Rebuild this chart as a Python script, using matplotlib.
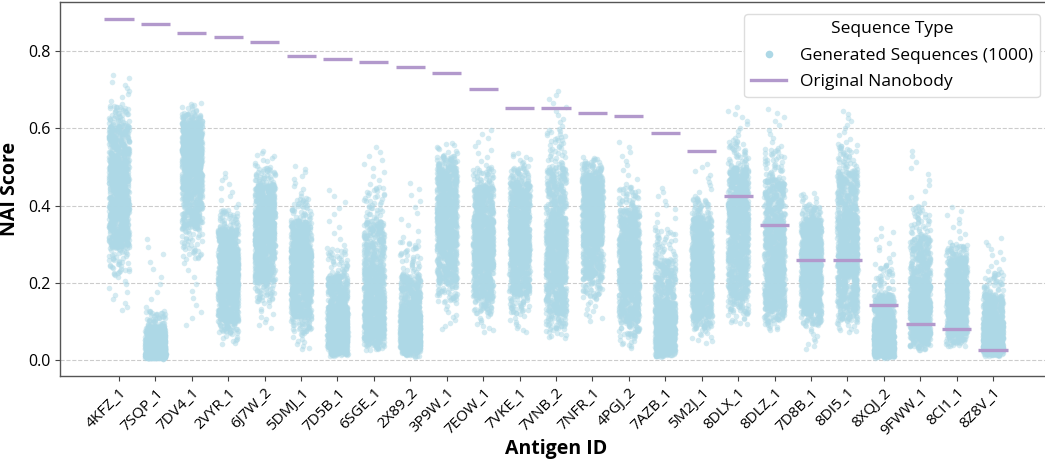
import numpy as np
import matplotlib
matplotlib.use("Agg")
import matplotlib.pyplot as plt
from matplotlib.lines import Line2D

plt.rcParams["font.family"] = ["Open Sans", "DejaVu Sans"]

# Antigen targets, ordered by the original nanobody's NAI score
antigens = ["4KFZ_1", "7SQP_1", "7DV4_1", "2VYR_1", "6J7W_2", "5DMJ_1", "7D5B_1",
            "6SGE_1", "2X89_2", "3P9W_1", "7EOW_1", "7VKE_1", "7VNB_2", "7NFR_1",
            "4PGJ_2", "7AZB_1", "5M2J_1", "8DLX_1", "8DLZ_1", "7D8B_1", "8DI5_1",
            "8XQJ_2", "9FWW_1", "8CI1_1", "8Z8V_1"]

# NAI score of the original nanobody for each antigen
original_score = [0.884, 0.870, 0.848, 0.836, 0.825, 0.788, 0.779, 0.772, 0.759,
                  0.744, 0.703, 0.653, 0.653, 0.639, 0.633, 0.587, 0.542, 0.426,
                  0.349, 0.260, 0.258, 0.143, 0.093, 0.079, 0.024]

# Score distribution of the 1000 generated sequences per antigen,
# given as quantiles at these cumulative probabilities
quantile_levels = [0.0, 0.01, 0.05, 0.25, 0.50, 0.75, 0.95, 0.99, 1.0]
generated_quantiles = {
    "4KFZ_1": [0.123, 0.22, 0.29, 0.37, 0.44, 0.52, 0.61, 0.66, 0.742],
    "7SQP_1": [0.003, 0.004, 0.007, 0.016, 0.030, 0.050, 0.088, 0.128, 0.322],
    "7DV4_1": [0.080, 0.26, 0.34, 0.44, 0.51, 0.565, 0.615, 0.64, 0.668],
    "2VYR_1": [0.040, 0.07, 0.10, 0.165, 0.22, 0.275, 0.34, 0.39, 0.490],
    "6J7W_2": [0.080, 0.15, 0.20, 0.275, 0.33, 0.385, 0.455, 0.50, 0.543],
    "5DMJ_1": [0.025, 0.07, 0.11, 0.18, 0.235, 0.285, 0.36, 0.42, 0.508],
    "7D5B_1": [0.010, 0.015, 0.025, 0.055, 0.095, 0.14, 0.22, 0.29, 0.448],
    "6SGE_1": [0.025, 0.035, 0.055, 0.10, 0.16, 0.24, 0.36, 0.45, 0.556],
    "2X89_2": [0.008, 0.015, 0.03, 0.055, 0.09, 0.13, 0.22, 0.31, 0.467],
    "3P9W_1": [0.077, 0.15, 0.20, 0.29, 0.36, 0.425, 0.50, 0.53, 0.565],
    "7EOW_1": [0.069, 0.12, 0.16, 0.24, 0.30, 0.365, 0.45, 0.50, 0.600],
    "7VKE_1": [0.070, 0.12, 0.17, 0.25, 0.32, 0.385, 0.46, 0.50, 0.539],
    "7VNB_2": [0.056, 0.08, 0.12, 0.21, 0.29, 0.37, 0.50, 0.60, 0.703],
    "7NFR_1": [0.098, 0.16, 0.21, 0.30, 0.36, 0.42, 0.48, 0.51, 0.526],
    "4PGJ_2": [0.030, 0.06, 0.10, 0.18, 0.245, 0.305, 0.39, 0.45, 0.570],
    "7AZB_1": [0.008, 0.012, 0.025, 0.055, 0.10, 0.15, 0.26, 0.34, 0.452],
    "5M2J_1": [0.042, 0.08, 0.11, 0.18, 0.24, 0.295, 0.37, 0.42, 0.513],
    "8DLX_1": [0.090, 0.12, 0.16, 0.25, 0.34, 0.415, 0.50, 0.57, 0.660],
    "8DLZ_1": [0.077, 0.10, 0.13, 0.20, 0.28, 0.36, 0.47, 0.55, 0.655],
    "7D8B_1": [0.025, 0.09, 0.12, 0.19, 0.25, 0.305, 0.365, 0.40, 0.435],
    "8DI5_1": [0.070, 0.10, 0.13, 0.22, 0.30, 0.38, 0.49, 0.56, 0.650],
    "8XQJ_2": [0.005, 0.008, 0.015, 0.04, 0.07, 0.10, 0.17, 0.25, 0.346],
    "9FWW_1": [0.025, 0.035, 0.055, 0.10, 0.15, 0.21, 0.32, 0.40, 0.550],
    "8CI1_1": [0.034, 0.045, 0.065, 0.115, 0.16, 0.205, 0.265, 0.30, 0.400],
    "8Z8V_1": [0.010, 0.013, 0.022, 0.042, 0.07, 0.10, 0.17, 0.23, 0.320],
}
n_generated = 1000

point_color = "#ADD8E6"
line_color = "#B299CC"

fig = plt.figure(figsize=(10.45, 4.61), dpi=100)
ax = fig.add_axes([60 / 1045, 85.3 / 461, 992 / 1045, 373.7 / 461])

rng = np.random.default_rng(7)
probs = (np.arange(n_generated) + 0.5) / n_generated
for i, name in enumerate(antigens):
    scores = np.interp(probs, quantile_levels, generated_quantiles[name])
    x = i + rng.uniform(-0.28, 0.28, n_generated)
    ax.scatter(x, scores, s=16, color=point_color, alpha=0.5,
               linewidths=0, zorder=2)
    ax.plot([i - 0.4, i + 0.4], [original_score[i]] * 2,
            color=line_color, lw=2.4, solid_capstyle="butt", zorder=3)

ax.set_xlim(-1.62, len(antigens) - 1 + 1.62)
ax.set_ylim(-0.0414, 0.928)
ax.set_xticks(range(len(antigens)))
ax.set_xticklabels(antigens, rotation=45, ha="right", rotation_mode="anchor",
                   fontsize=11)
ax.set_yticks([0.0, 0.2, 0.4, 0.6, 0.8])
ax.set_yticklabels(["0.0", "0.2", "0.4", "0.6", "0.8"], fontsize=11.5)
ax.tick_params(axis="both", length=3.5, width=0.8, color="#444444")
ax.grid(axis="y", linestyle="--", color="#cccccc", lw=0.8, zorder=0)
ax.set_axisbelow(True)
for sp in ax.spines.values():
    sp.set_color("#555555")
    sp.set_linewidth(1.0)

ax.set_xlabel("Antigen ID", fontsize=14, fontweight="bold", labelpad=0)
ax.set_ylabel("NAI Score", fontsize=14, fontweight="bold", labelpad=6)

handles = [
    Line2D([], [], marker="o", linestyle="none", markersize=5.5,
           markerfacecolor=point_color, markeredgewidth=0,
           label=f"Generated Sequences ({n_generated})"),
    Line2D([], [], color=line_color, lw=2.4, label="Original Nanobody"),
]
leg = ax.legend(handles=handles, title="Sequence Type", fontsize=12.5,
                title_fontsize=12.5, loc="upper right", frameon=True,
                fancybox=True, framealpha=1.0, edgecolor="#dddddd",
                labelspacing=0.6, borderaxespad=0.7)

fig.savefig("out.png", dpi=100)
